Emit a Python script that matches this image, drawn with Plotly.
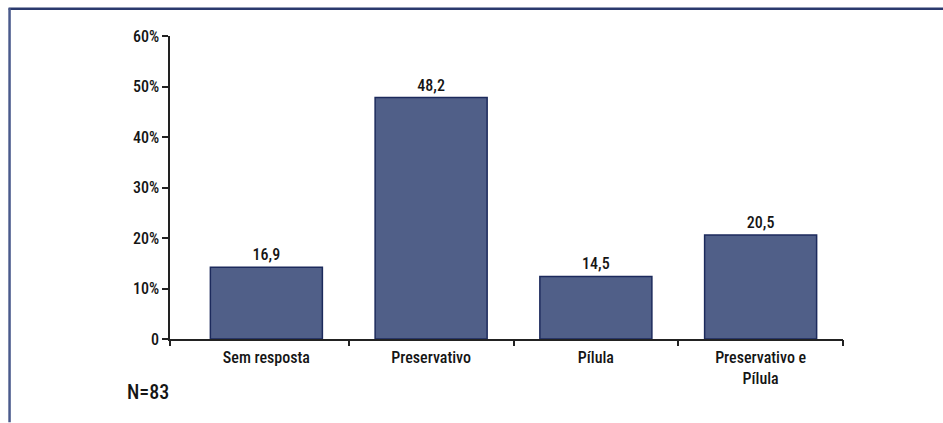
import plotly.graph_objects as go

# Data
categories = ["Sem resposta", "Preservativo", "Pílula", "Preservativo e<br>Pílula"]
bar_heights = [14.2, 47.8, 12.4, 20.6]          # heights as drawn in the picture (%)
value_labels = ["16,9", "48,2", "14,5", "20,5"]  # labels printed above bars
y_tickvals = [0, 10, 20, 30, 40, 50, 60]
y_ticktext = ["0", "10%", "20%", "30%", "40%", "50%", "60%"]
note_text = "N=83"

W, H = 943, 423
ML, MR, MT, MB = 169.5, 100.3, 35.8, 83.5
FONT = "Roboto Condensed, Liberation Sans Narrow, Arial Narrow, Roboto, sans-serif"
FS = 16
WT = 500
TXT = "#151515"

idx = list(range(len(categories)))
boundaries = [i + 0.5 for i in idx]

fig = go.Figure()
fig.add_trace(go.Bar(
    x=idx, y=bar_heights, width=0.68,
    marker=dict(color="#505f88", line=dict(color="#1c2a5c", width=1.5)),
    text=value_labels, textposition="outside", cliponaxis=False,
    textfont=dict(family=FONT, size=FS, color=TXT, weight=WT),
    hoverinfo="skip",
))

pw = W - ML - MR
ph = H - MT - MB


def px_x(px):
    return (px - ML) / pw


def px_y(py):
    return (H - MB - py) / ph


fig.update_layout(
    width=W, height=H,
    margin=dict(l=ML, r=MR, t=MT, b=MB, pad=0),
    paper_bgcolor="white", plot_bgcolor="white",
    showlegend=False,
    font=dict(family=FONT, size=FS, color=TXT, weight=WT),
    xaxis=dict(
        range=[-0.585, 3.5], tickvals=idx, ticktext=categories,
        ticks="", showline=True, linecolor="#222222", linewidth=1.5,
        showgrid=False, zeroline=False, ticklabelstandoff=3,
        tickfont=dict(size=FS, family=FONT, weight=WT, color=TXT),
    ),
    xaxis2=dict(
        range=[-0.585, 3.5], overlaying="x", anchor="y", side="bottom",
        tickvals=[-0.585] + boundaries, ticktext=[""] * (len(boundaries) + 1),
        ticks="outside", ticklen=6, tickwidth=1.5, tickcolor="#222222",
        showline=False, showgrid=False, zeroline=False,
    ),
    yaxis=dict(
        range=[0, 60], tickvals=y_tickvals, ticktext=y_ticktext,
        ticks="outside", ticklen=6, tickwidth=1.5, tickcolor="#222222",
        showline=True, linecolor="#222222", linewidth=1.5,
        showgrid=False, zeroline=False,
        tickfont=dict(size=FS, family=FONT, weight=WT, color=TXT),
    ),
    shapes=[
        dict(type="line", xref="paper", yref="paper",
             x0=px_x(8), x1=px_x(943), y0=px_y(8.5), y1=px_y(8.5),
             line=dict(color="#2b3a6e", width=2.5)),
        dict(type="line", xref="paper", yref="paper",
             x0=px_x(9), x1=px_x(9), y0=px_y(8), y1=px_y(423),
             line=dict(color="#4a5a8c", width=2.5)),
    ],
    annotations=[
        dict(text=note_text, xref="paper", yref="paper",
             x=px_x(124), y=px_y(393), xanchor="left", yanchor="middle",
             showarrow=False,
             font=dict(family=FONT, size=20, color=TXT, weight=WT)),
    ],
)
# dummy trace on xaxis2 so the overlay axis is rendered
fig.add_trace(go.Scatter(x=[None], y=[None], xaxis="x2", yaxis="y", hoverinfo="skip"))

fig.write_html("out.html")
